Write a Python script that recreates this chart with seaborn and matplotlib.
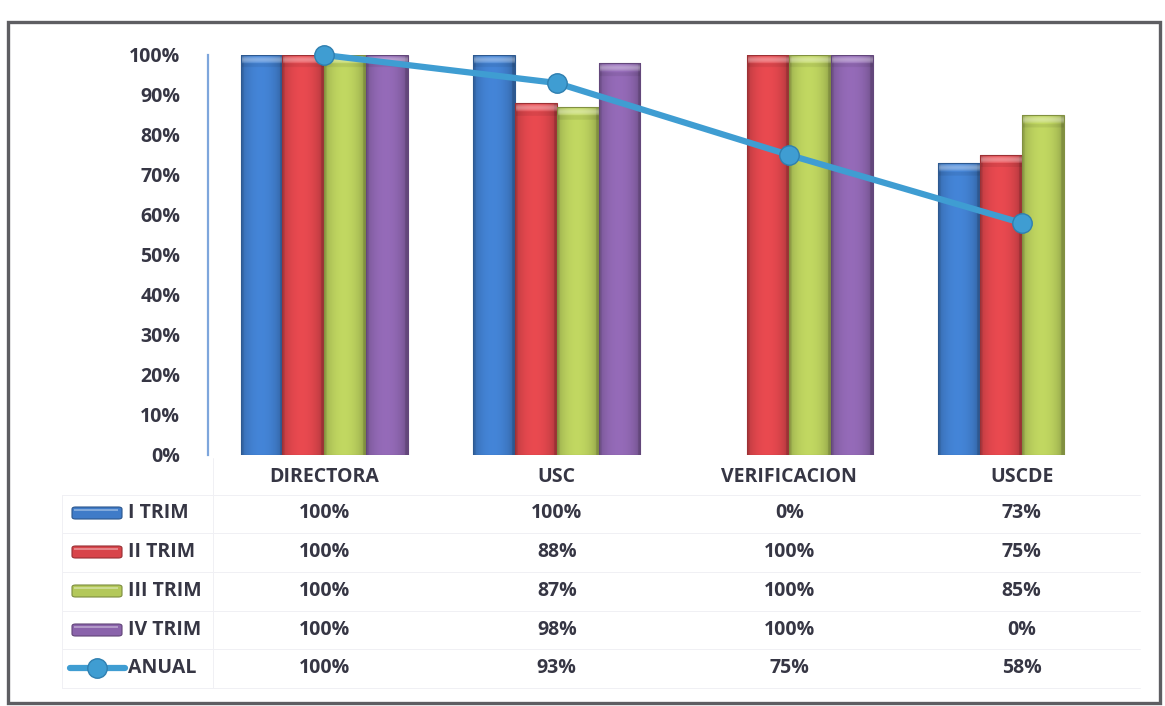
import numpy as np
import pandas as pd
import matplotlib
matplotlib.use("Agg")
import matplotlib.pyplot as plt
import matplotlib.colors as mcolors
from matplotlib.patches import Rectangle, FancyBboxPatch
from matplotlib.lines import Line2D
from matplotlib.transforms import blended_transform_factory
import seaborn as sns

# ---- data -------------------------------------------------------------
categories = ["DIRECTORA", "USC", "VERIFICACION", "USCDE"]
series_names = ["I TRIM", "II TRIM", "III TRIM", "IV TRIM"]
i_trim = [1.00, 1.00, 0.00, 0.73]
ii_trim = [1.00, 0.88, 1.00, 0.75]
iii_trim = [1.00, 0.87, 1.00, 0.85]
iv_trim = [1.00, 0.98, 1.00, 0.00]
anual = [1.00, 0.93, 0.75, 0.58]
y_ticks = [0.0, 0.1, 0.2, 0.3, 0.4, 0.5, 0.6, 0.7, 0.8, 0.9, 1.0]

bar_colors = ["#3f7bc8", "#d8444a", "#b3c85a", "#8a63ab"]
line_color = "#3f9dd2"
text_color = "#363644"
FS = 14

sns.set_theme(style="white")
plt.rcParams["font.family"] = ["Open Sans", "DejaVu Sans"]

W, H = 1165, 706
fig = plt.figure(figsize=(W / 100, H / 100), dpi=100)
fig.patch.set_facecolor("white")


def fx(px):
    return px / W


def fy(py):
    return 1 - py / H


ax = fig.add_axes([fx(208), fy(455), fx(1138) - fx(208), fy(55) - fy(455)])
ax.set_facecolor("white")

df = pd.DataFrame({
    "cat": np.repeat(categories, len(series_names)),
    "trim": series_names * len(categories),
    "val": np.array([i_trim, ii_trim, iii_trim, iv_trim]).T.ravel(),
})

sns.barplot(data=df, x="cat", y="val", hue="trim", order=categories,
            hue_order=series_names, palette=bar_colors, width=0.72,
            saturation=1, dodge=True, legend=False, ax=ax, zorder=2,
            edgecolor="none")


def shaded_bar(patch):
    """Overlay a cylinder-like shading on one bar."""
    x0, y0 = patch.get_x(), patch.get_y()
    w, h = patch.get_width(), patch.get_height()
    if h <= 0:
        return
    base = np.array(mcolors.to_rgb(patch.get_facecolor()))
    nx, ny = 60, 300
    u = np.linspace(0, 1, nx)
    prof = 0.82 + 0.26 * np.sin(np.pi * np.clip(u * 1.05, 0, 1)) ** 0.6
    prof[u < 0.06] *= 0.92
    prof[u > 0.94] *= 0.88
    img = np.ones((ny, nx, 3)) * base[None, None, :]
    img = img * prof[None, :, None]
    v = np.linspace(0, 1, ny)
    cap = 0.02 / h
    top = v > 1 - cap
    # soft bevel at the top of each bar
    t = np.clip((v - (1 - cap)) / cap, 0, 1)
    light = (np.sin(np.pi * t) * 0.35)[:, None, None]
    img = img * (1 - light) + light
    img[(v > 1 - cap * 1.5) & ~top] *= 0.93
    img = np.clip(img, 0, 1)
    ax.imshow(img, extent=(x0, x0 + w, y0, y0 + h), origin="lower",
              aspect="auto", interpolation="bilinear", zorder=2.5)
    ax.add_patch(Rectangle((x0, y0), w, h, fill=False,
                           edgecolor=tuple(base * 0.72), lw=0.8, zorder=2.6))


for p in list(ax.patches):
    shaded_bar(p)

# annual line
sns.pointplot(x=categories, y=anual, order=categories, color=line_color,
              markers="o", linestyles="-", markersize=14, linewidth=4.5,
              ax=ax, zorder=4)
for ln in ax.lines:
    ln.set_clip_on(False)
    ln.set_zorder(4)
    ln.set_markeredgecolor("#2f7fb0")
    ln.set_markeredgewidth(1.0)

ax.set_xlim(-0.5, len(categories) - 0.5)
ax.set_ylim(0, 1.0)
ax.set_yticks(y_ticks)
ax.set_yticklabels([f"{int(round(t * 100))}%" for t in y_ticks],
                   fontsize=FS, fontweight="bold", color=text_color)
ax.tick_params(axis="y", length=0, pad=20)
ax.set_xticks([])
ax.set_xlabel("")
ax.set_ylabel("")
for s in ["top", "right", "bottom"]:
    ax.spines[s].set_visible(False)
ax.spines["left"].set_color("#7ea6dc")
ax.spines["left"].set_linewidth(1.6)

# ---- data table ------------------------------------------------------
tr = blended_transform_factory(ax.transData, fig.transFigure)
row_y = [513, 552, 591, 630, 668]
header_y = 477
table_rows = [i_trim, ii_trim, iii_trim, iv_trim, anual]
row_names = series_names + ["ANUAL"]

for i, cat in enumerate(categories):
    ax.text(i, fy(header_y), cat, transform=tr, ha="center", va="center",
            fontsize=FS, fontweight="bold", color=text_color, clip_on=False)
for r, (vals, yy) in enumerate(zip(table_rows, row_y)):
    for i, v in enumerate(vals):
        ax.text(i, fy(yy), f"{int(round(v * 100))}%", transform=tr,
                ha="center", va="center", fontsize=FS, fontweight="bold",
                color=text_color, clip_on=False)
    fig.text(fx(128), fy(yy), row_names[r], ha="left", va="center",
             fontsize=FS, fontweight="bold", color=text_color)

# legend keys inside the table
for r, col in enumerate(bar_colors):
    yy = row_y[r]
    fig.patches.append(FancyBboxPatch(
        (fx(72), fy(yy + 6)), fx(122) - fx(72), fy(yy - 6) - fy(yy + 6),
        boxstyle="round,pad=0,rounding_size=0.003", transform=fig.transFigure,
        facecolor=col, edgecolor=tuple(np.array(mcolors.to_rgb(col)) * 0.7),
        lw=0.8))
    fig.patches.append(Rectangle(
        (fx(74), fy(yy - 2)), fx(118) - fx(74), fy(yy - 4) - fy(yy - 2),
        transform=fig.transFigure, facecolor="white", alpha=0.35, lw=0))
fig.lines.append(Line2D([fx(70), fx(125)], [fy(row_y[4])] * 2,
                        transform=fig.transFigure, color=line_color, lw=4.5))
fig.lines.append(Line2D([fx(97)], [fy(row_y[4])], transform=fig.transFigure,
                        marker="o", markersize=14, color=line_color,
                        markeredgecolor="#2f7fb0", markeredgewidth=1.0))

# faint table grid
grid_c = "#f0f0f4"
for yy in [495, 533, 572, 611, 649, 688]:
    fig.lines.append(Line2D([fx(62), fx(1140)], [fy(yy)] * 2,
                            transform=fig.transFigure, color=grid_c, lw=0.7))
fig.lines.append(Line2D([fx(213)] * 2, [fy(458), fy(688)],
                        transform=fig.transFigure, color=grid_c, lw=0.7))
fig.lines.append(Line2D([fx(62)] * 2, [fy(495), fy(688)],
                        transform=fig.transFigure, color=grid_c, lw=0.7))

# outer frame
fig.patches.append(Rectangle((fx(8), fy(703)), fx(1160) - fx(8),
                             fy(22) - fy(703), transform=fig.transFigure,
                             fill=False, edgecolor="#5e5e62", lw=2.4))

fig.savefig("out.png", dpi=100, facecolor="white")
